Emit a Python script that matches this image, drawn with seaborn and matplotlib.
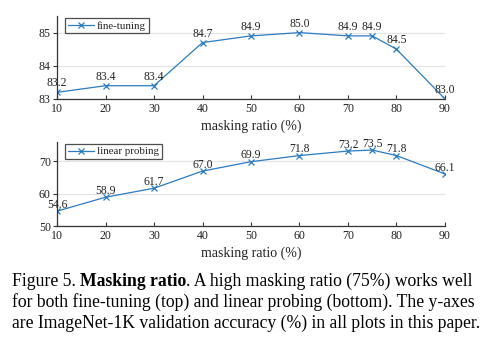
import matplotlib
matplotlib.use("Agg")
import matplotlib.pyplot as plt
import seaborn as sns
import pandas as pd

# masking ratios (%) and accuracies
ratio = [10, 20, 30, 40, 50, 60, 70, 75, 80, 90]
fine_tuning = [83.2, 83.4, 83.4, 84.7, 84.9, 85.0, 84.9, 84.9, 84.5, 83.0]
linear_probing = [54.6, 58.9, 61.7, 67.0, 69.9, 71.8, 73.2, 73.5, 71.8, 66.1]
x_ticks = [10, 20, 30, 40, 50, 60, 70, 80, 90]
ft_yticks = [83, 84, 85]
lp_yticks = [50, 60, 70]

sns.set_theme(style="white")
plt.rcParams["font.family"] = ["Liberation Serif", "DejaVu Serif"]

color = "#2b7bc0"
fig = plt.figure(figsize=(4.94, 3.46), dpi=100)
ax1 = fig.add_axes([0.1154, 0.7139, 0.7854, 0.2399])
ax2 = fig.add_axes([0.1154, 0.3468, 0.7854, 0.2428])


def panel(ax, values, label, yticks, ylim, lift):
    df = pd.DataFrame({"ratio": ratio, "acc": values})
    sns.lineplot(data=df, x="ratio", y="acc", ax=ax, color=color, lw=0.9,
                 marker="x", markersize=4, markeredgewidth=0.9,
                 markeredgecolor=color, label=label)
    for xv, yv in zip(ratio, values):
        ax.annotate(f"{yv:.1f}", (xv, yv), xytext=(0, lift),
                    textcoords="offset points", ha="center", va="baseline",
                    fontsize=8.4, color="#222222", annotation_clip=False)
    ax.set_xlim(10, 90)
    ax.set_ylim(*ylim)
    ax.set_xticks(x_ticks)
    ax.set_yticks(yticks)
    ax.yaxis.grid(True, color="#e4e4e4", lw=0.9)
    ax.set_axisbelow(True)
    for s in ("top", "right"):
        ax.spines[s].set_visible(False)
    for s in ("left", "bottom"):
        ax.spines[s].set_color("#333333")
        ax.spines[s].set_linewidth(0.9)
    ax.tick_params(axis="both", length=3, width=0.8, color="#333333",
                   labelsize=8.6, left=True, bottom=True, labelcolor="#222222")
    ax.tick_params(axis="x", direction="in", pad=3)
    ax.tick_params(axis="y", direction="out", pad=1.5)
    ax.set_xlabel("masking ratio (%)", fontsize=10, color="#222222", labelpad=3)
    ax.set_ylabel("")
    leg = ax.legend(loc="upper left", bbox_to_anchor=(0.015, 1.0),
                    fontsize=7.8, frameon=True, fancybox=False,
                    edgecolor="#222222", borderpad=0.25, handlelength=2.4,
                    handletextpad=0.3, borderaxespad=0.2)
    leg.get_frame().set_linewidth(0.9)
    for t in leg.get_texts():
        t.set_color("#222222")


panel(ax1, fine_tuning, "fine-tuning", ft_yticks, (83, 85.5), 4.3)
panel(ax2, linear_probing, "linear probing", lp_yticks, (50, 76), 2.5)

# caption, written piece by piece so the title can be bold
cap_size = 12.7
renderer = fig.canvas.get_renderer()


def write_line(y, pieces):
    x = 12
    for txt, weight in pieces:
        t = fig.text(x / 494, 1 - y / 346, txt, fontsize=cap_size,
                     fontweight=weight, color="black", va="baseline", ha="left")
        bb = t.get_window_extent(renderer=renderer)
        x += bb.width


write_line(286, [("Figure 5. ", "normal"), ("Masking ratio", "bold"),
                 (". A high masking ratio (75%) works well", "normal")])
write_line(307, [("for both fine-tuning (top) and linear probing (bottom). The y-axes", "normal")])
write_line(328, [("are ImageNet-1K validation accuracy (%) in all plots in this paper.", "normal")])

fig.savefig("out.png", dpi=100)
